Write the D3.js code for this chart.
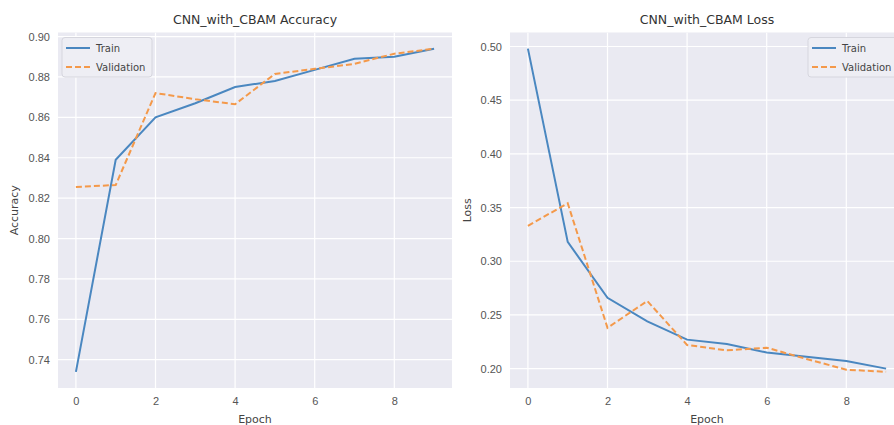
<!DOCTYPE html>
<html>
<head>
<style>
  body { margin: 0; background: #fff; }
  svg { font-family: "DejaVu Sans", sans-serif; }
  .tick text { fill: #555; font-size: 11px; }
  .title { fill: #333; font-size: 12.5px; text-anchor: middle; }
  .axis-label { fill: #444; font-size: 11px; text-anchor: middle; }
  .legend text { fill: #444; font-size: 10px; }
</style>
</head>
<body>
<script src="https://d3js.org/d3.v7.min.js"></script>
<script>
const epochs = [0, 1, 2, 3, 4, 5, 6, 7, 8, 9];
const trainAcc = [0.734, 0.839, 0.860, 0.867, 0.875, 0.878, 0.8835, 0.889, 0.890, 0.894];
const valAcc = [0.8255, 0.8265, 0.872, 0.869, 0.8665, 0.8815, 0.884, 0.8865, 0.8915, 0.894];
const trainLoss = [0.498, 0.318, 0.266, 0.244, 0.227, 0.223, 0.215, 0.211, 0.207, 0.200];
const valLoss = [0.333, 0.354, 0.238, 0.263, 0.222, 0.217, 0.2195, 0.209, 0.199, 0.197];
const xTicks = [0, 2, 4, 6, 8];
const accTicks = [0.74, 0.76, 0.78, 0.80, 0.82, 0.84, 0.86, 0.88, 0.90];
const lossTicks = [0.20, 0.25, 0.30, 0.35, 0.40, 0.45, 0.50];

const W = 894, H = 425;
const blue = '#4a87c0', orange = '#f4994a';

const svg = d3.select('body').append('svg')
  .attr('width', W).attr('height', H);

function panel(opts) {
  const { left, right, top, bottom, title, ylabel, train, val, yTicks, legendX, ylabelX } = opts;

  // matplotlib style 5% margins
  const pad = (a, b) => [a - (b - a) * 0.05, b + (b - a) * 0.05];
  const all = train.concat(val);
  const x = d3.scaleLinear().domain(pad(0, 9)).range([left, right]);
  const y = d3.scaleLinear().domain(pad(d3.min(all), d3.max(all))).range([bottom, top]);

  const g = svg.append('g');
  const clipId = 'clip' + left;
  g.append('clipPath').attr('id', clipId)
    .append('rect').attr('x', left).attr('y', top)
    .attr('width', right - left).attr('height', bottom - top);

  g.append('rect')
    .attr('x', left).attr('y', top)
    .attr('width', right - left).attr('height', bottom - top)
    .attr('fill', '#eaeaf2');

  // grid
  g.append('g').attr('clip-path', `url(#${clipId})`)
    .selectAll('line.vx').data(xTicks).join('line')
    .attr('x1', d => x(d)).attr('x2', d => x(d))
    .attr('y1', top).attr('y2', bottom)
    .attr('stroke', '#fff').attr('stroke-width', 1.2);
  g.append('g')
    .selectAll('line').data(yTicks).join('line')
    .attr('x1', left).attr('x2', right)
    .attr('y1', d => y(d)).attr('y2', d => y(d))
    .attr('stroke', '#fff').attr('stroke-width', 1.2);

  // axes (no tick marks)
  const xa = g.append('g').attr('transform', `translate(0,${bottom})`)
    .call(d3.axisBottom(x).tickValues(xTicks).tickSize(0).tickPadding(9).tickFormat(d3.format('d')));
  xa.select('.domain').remove();
  const ya = g.append('g').attr('transform', `translate(${left},0)`)
    .call(d3.axisLeft(y).tickValues(yTicks).tickSize(0).tickPadding(8).tickFormat(d3.format('.2f')));
  ya.select('.domain').remove();
  g.selectAll('.tick text').attr('font-family', null).attr('font-size', null);

  const line = vals => d3.line().x((d, i) => x(epochs[i])).y(d => y(d))(vals);
  const lines = g.append('g').attr('clip-path', `url(#${clipId})`);
  lines.append('path').attr('d', line(train))
    .attr('fill', 'none').attr('stroke', blue).attr('stroke-width', 2);
  lines.append('path').attr('d', line(val))
    .attr('fill', 'none').attr('stroke', orange).attr('stroke-width', 2)
    .attr('stroke-dasharray', '6,3');

  g.append('text').attr('class', 'title')
    .attr('x', (left + right) / 2).attr('y', 24).text(title);
  g.append('text').attr('class', 'axis-label')
    .attr('x', (x(0) + x(9)) / 2 + 0).attr('y', 423).text('Epoch');
  g.append('text').attr('class', 'axis-label')
    .attr('transform', `translate(${ylabelX},${(top + bottom) / 2}) rotate(-90)`)
    .text(ylabel);

  // legend
  const lg = g.append('g').attr('class', 'legend').attr('clip-path', `url(#${clipId})`);
  lg.append('rect').attr('x', legendX).attr('y', 37.5)
    .attr('width', 90).attr('height', 39.5).attr('rx', 3)
    .attr('fill', '#eeeef4').attr('stroke', '#d6d6de').attr('stroke-width', 1);
  const items = [['Train', blue, null], ['Validation', orange, '6,3']];
  items.forEach((it, i) => {
    const yy = 48 + i * 19;
    lg.append('line')
      .attr('x1', legendX + 4).attr('x2', legendX + 28)
      .attr('y1', yy).attr('y2', yy)
      .attr('stroke', it[1]).attr('stroke-width', 2)
      .attr('stroke-dasharray', it[2]);
    lg.append('text').attr('x', legendX + 34).attr('y', yy + 3.5).text(it[0]);
  });
}

panel({
  left: 58, right: 452, top: 32.5, bottom: 388,
  title: 'CNN_with_CBAM Accuracy', ylabel: 'Accuracy',
  train: trainAcc, val: valAcc, yTicks: accTicks, legendX: 62, ylabelX: 18
});

panel({
  left: 510, right: 904, top: 32.5, bottom: 388,
  title: 'CNN_with_CBAM Loss', ylabel: 'Loss',
  train: trainLoss, val: valLoss, yTicks: lossTicks, legendX: 808, ylabelX: 471
});
</script>
</body>
</html>
